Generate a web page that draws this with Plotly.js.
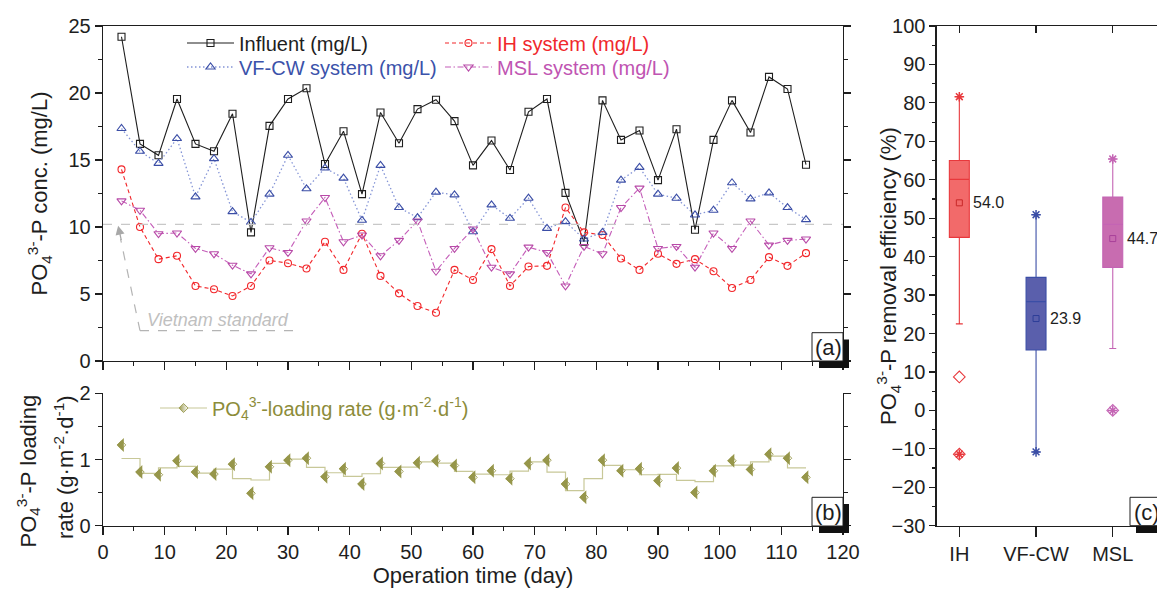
<!DOCTYPE html>
<html><head><meta charset="utf-8">
<script src="https://cdn.plot.ly/plotly-3.0.1.min.js"></script>
<style>html,body{margin:0;padding:0;overflow:hidden;background:#fff}</style>
</head><body><div id="chart" style="width:1175px;height:589px"></div>
<script>
// ---------- data ----------
const days = [3,6,9,12,15,18,21,24,27,30,33,36,39,42,45,48,51,54,57,60,63,66,69,72,75,78,81,84,87,90,93,96,99,102,105,108,111,114];
const influent = [24.2,16.2,15.35,19.55,16.2,15.65,18.45,9.6,17.55,19.55,20.35,14.7,17.15,12.45,18.55,16.25,18.8,19.5,17.9,14.6,16.45,14.25,18.6,19.55,12.55,8.9,19.45,16.5,17.2,13.5,17.3,9.8,16.5,19.45,17.05,21.2,20.3,14.65];
const ihSystem = [14.3,10.0,7.6,7.85,5.6,5.35,4.85,5.6,7.5,7.3,6.9,8.9,6.8,9.5,6.35,5.05,4.1,3.6,6.8,6.05,8.35,5.6,7.05,7.1,11.45,9.6,9.4,7.65,6.8,8.0,7.25,7.6,6.7,5.45,6.05,7.75,7.1,8.05];
const vfcwSystem = [17.35,15.65,14.75,16.6,12.25,15.1,11.15,10.35,12.45,15.35,12.85,14.4,13.65,10.5,14.6,11.45,10.7,12.6,12.4,9.65,11.65,10.65,12.15,9.9,10.4,9.1,9.6,13.5,14.45,12.45,12.15,10.9,11.25,13.3,12.1,12.55,11.45,10.55];
const mslSystem = [11.95,11.25,9.5,9.55,8.4,8.0,7.15,6.5,8.45,8.1,10.45,12.2,8.9,9.4,7.85,9.0,10.45,6.7,8.4,9.85,7.0,6.5,8.5,8.1,5.6,8.55,8.0,11.45,12.9,8.4,8.55,7.0,9.55,8.4,10.45,8.65,9.0,9.1];
const vietnamStandard = 10.2;
const loadingRate = [1.22,0.81,0.77,0.98,0.81,0.78,0.93,0.49,0.89,0.99,1.02,0.74,0.86,0.63,0.94,0.82,0.95,0.98,0.91,0.73,0.83,0.71,0.94,0.99,0.63,0.43,0.99,0.83,0.86,0.68,0.87,0.5,0.83,0.98,0.85,1.08,1.02,0.73];
const loadingStepLevels = [1.015,0.79,0.875,0.895,0.795,0.855,0.71,0.69,0.94,1.005,0.88,0.80,0.745,0.785,0.88,0.885,0.965,0.945,0.82,0.78,0.77,0.825,0.965,0.81,0.53,0.71,0.91,0.845,0.77,0.775,0.685,0.665,0.905,0.915,0.965,1.05,0.875];

const boxCats = ['IH','VF-CW','MSL'];
const boxQ1 = [45.0,15.7,37.2];
const boxMedian = [60.1,28.3,48.4];
const boxQ3 = [65.0,34.6,55.5];
const boxLowerFence = [22.5,-10.8,16.1];
const boxUpperFence = [81.6,50.9,65.4];
const boxMean = [54.0,23.9,44.7];
const boxMin = [-11.4,-10.8,0.0];
const boxMax = [81.6,50.9,65.4];
const outlierCats = ['IH','IH','MSL'];
const outlierVals = [8.7,-11.4,0.0];

// ---------- helpers / styles ----------
const W = 1175, H = 589;
const fx = p => p / W;
const fy = p => 1 - p / H;
const FONT = 'Liberation Sans, Arial, sans-serif';
const INK = '#1e1e1e';
const PO4 = 'PO<sub>4</sub><sup>3-</sup>';
const boxLine = ['#e8383c','#3b4ea6','#c464b4'];
const boxFill = ['#f26a6a','#5a5fac','#c86cb0'];
const olive = '#96964a';
const oliveLight = '#a2a25c';
const oliveLine = '#c8c898';

const traces = [];
traces.push({x: days, y: influent, xaxis:'x', yaxis:'y', mode:'lines+markers', name:'Influent (mg/L)', legend:'legend', showlegend:true,
  line:{color:INK, width:1.1}, marker:{symbol:'square-open', size:7, color:INK, line:{width:1.1}}});
traces.push({x: days, y: ihSystem, xaxis:'x', yaxis:'y', mode:'lines+markers', name:'IH system (mg/L)', legend:'legend2', showlegend:true,
  line:{color:'#f2262a', width:1.1, dash:'4px,3px'}, marker:{symbol:'circle-open', size:7, color:'#f2262a', line:{width:1.1}}});
traces.push({x: days, y: vfcwSystem, xaxis:'x', yaxis:'y', mode:'lines+markers', name:'VF-CW system (mg/L)', legend:'legend3', showlegend:true,
  line:{color:'#8494d6', width:1.3, dash:'1.5px,2.5px'}, marker:{symbol:'triangle-up-open', size:8, color:'#3b4ea6', line:{width:1.1}}});
traces.push({x: days, y: mslSystem, xaxis:'x', yaxis:'y', mode:'lines+markers', name:'MSL system (mg/L)', legend:'legend4', showlegend:true,
  line:{color:'#c45cb8', width:1.1, dash:'6px,2.5px,1.5px,2.5px'}, marker:{symbol:'triangle-down-open', size:8, color:'#b84aa8', line:{width:1.1}}});

// loading rate panel
traces.push({x: days, y: loadingStepLevels.concat([loadingStepLevels[loadingStepLevels.length-1]]), xaxis:'x2', yaxis:'y2',
  mode:'lines', line:{shape:'hv', color:oliveLine, width:1.2}, showlegend:false, hoverinfo:'skip'});
const diamondOutline = {symbol:'square-open', angle:45, size:6, color:oliveLight, line:{width:1}};
const diamondLeftHalf = {symbol:'triangle-ne', angle:225, size:11, color:olive, line:{width:0}};
traces.push({x: days, y: loadingRate, xaxis:'x2', yaxis:'y2', mode:'markers', marker:diamondOutline, showlegend:false});
traces.push({x: days, y: loadingRate, xaxis:'x2', yaxis:'y2', mode:'markers', marker:diamondLeftHalf, showlegend:false});
traces.push({x: [null], y: [null], xaxis:'x2', yaxis:'y2', mode:'lines+markers', name: PO4 + '-loading rate (g·m<sup>-2</sup>·d<sup>-1</sup>)',
  legend:'legend5', showlegend:true, line:{color:oliveLine, width:1.2},
  marker:{symbol:'diamond', size:7, color:olive, gradient:{type:'horizontal', color:'#ffffff'}, line:{color:oliveLight, width:1}}});

// box panel
boxCats.forEach((c, i) => {
  traces.push({type:'box', x:[c], q1:[boxQ1[i]], median:[boxMedian[i]], q3:[boxQ3[i]],
    lowerfence:[boxLowerFence[i]], upperfence:[boxUpperFence[i]], boxpoints:false,
    xaxis:'x3', yaxis:'y3', width:0.26, whiskerwidth:0.35, fillcolor:boxFill[i],
    line:{color:boxLine[i], width:1.1}, showlegend:false, name:c});
});
traces.push({x: boxCats.map((c, i) => i), y: boxMean, xaxis:'x4', yaxis:'y3', mode:'markers', showlegend:false,
  marker:{symbol:'square-open', size:6, color:['#c82828','#2e3e98','#a8409a'], line:{width:1}}});
traces.push({x: outlierCats, y: outlierVals, xaxis:'x3', yaxis:'y3', mode:'markers', showlegend:false,
  marker:{symbol:'diamond-open', size:9, color:['#e8383c','#e8383c','#c464b4'], line:{width:1.1}}});
traces.push({x: boxCats.concat(boxCats), y: boxMin.concat(boxMax), xaxis:'x3', yaxis:'y3', mode:'markers', showlegend:false,
  marker:{symbol:'asterisk-open', size:8, color:boxLine.concat(boxLine), line:{width:1.5}}});

const tickfont = {family:FONT, size:20, color:INK};
const titlefont = {family:FONT, size:22, color:INK};
const axBase = {showline:true, linecolor:INK, linewidth:1.3, ticks:'outside', tickcolor:INK, tickwidth:1.2,
  showgrid:false, zeroline:false, tickfont:tickfont};

function legendAt(xp, yp, color) {
  return {x:fx(xp), y:fy(yp), xanchor:'left', yanchor:'middle', bgcolor:'rgba(0,0,0,0)', borderwidth:0,
    itemwidth:47, font:{family:FONT, size:20, color:color}};
}

const annotations = [
  {xref:'x', yref:'y', x:18.7, y:3.08, xanchor:'center', yanchor:'middle', text:'<i>Vietnam standard</i>', showarrow:false,
   font:{family:FONT, size:18, color:'#c0c0c0'}},
  {xref:'x', yref:'y', x:2.45, y:10.1, ax:3.5, ay:16, text:'', showarrow:true, arrowhead:2, arrowsize:1.4,
   arrowwidth:1.3, arrowcolor:'#a8a8a8', standoff:0},
  {xref:'paper', yref:'paper', x:fx(828), y:fy(347), xanchor:'center', yanchor:'middle', text:'(a)', showarrow:false, font:titlefont},
  {xref:'paper', yref:'paper', x:fx(828), y:fy(512), xanchor:'center', yanchor:'middle', text:'(b)', showarrow:false, font:titlefont},
  {xref:'paper', yref:'paper', x:fx(1132), y:fy(512), xanchor:'left', yanchor:'middle', text:'(c)', showarrow:false, font:titlefont},
  {xref:'paper', yref:'paper', x:fx(28), y:fy(393), xanchor:'center', yanchor:'top', textangle:-90,
   text: PO4 + '-P loading', showarrow:false, font:titlefont},
  {xref:'paper', yref:'paper', x:fx(64), y:fy(393), xanchor:'center', yanchor:'top', textangle:-90,
   text:'rate (g·m<sup>-2</sup>·d<sup>-1</sup>)', showarrow:false, font:titlefont},
  {xref:'paper', yref:'paper', x:fx(888), y:fy(276), xanchor:'center', yanchor:'middle', textangle:-90,
   text: PO4 + '-P removal efficiency (%)', showarrow:false, font:titlefont}
];
boxCats.forEach((c, i) => {
  annotations.push({xref:'x3', yref:'y3', x:c, y:boxMean[i], xshift:12, xanchor:'left', yanchor:'middle', text:boxMean[i].toFixed(1),
    showarrow:false, font:{family:FONT, size:16, color:INK}});
});

const shapes = [
  {type:'line', xref:'x', yref:'y', x0:0, x1:120, y0:vietnamStandard, y1:vietnamStandard, line:{color:'#c8c8c8', width:1.2, dash:'dash'}},
  {type:'line', xref:'x', yref:'y', x0:6.0, x1:31.1, y0:2.26, y1:2.26, line:{color:'#b4b4b4', width:1.2, dash:'dash'}},
  {type:'line', xref:'x', yref:'y', x0:6.0, x1:2.85, y0:2.26, y1:9.1, line:{color:'#b4b4b4', width:1.2, dash:'dash'}},
  // panel label boxes
  {type:'rect', xref:'paper', yref:'paper', x0:fx(819), x1:fx(849), y0:fy(368), y1:fy(339.5), fillcolor:'#111', line:{width:0}},
  {type:'rect', xref:'paper', yref:'paper', x0:fx(812), x1:fx(843), y0:fy(361), y1:fy(332.7), fillcolor:'#fff', line:{color:INK, width:1}},
  {type:'rect', xref:'paper', yref:'paper', x0:fx(819), x1:fx(849), y0:fy(533), y1:fy(504), fillcolor:'#111', line:{width:0}},
  {type:'rect', xref:'paper', yref:'paper', x0:fx(812), x1:fx(843), y0:fy(526), y1:fy(497.3), fillcolor:'#fff', line:{color:INK, width:1}},
  {type:'rect', xref:'paper', yref:'paper', x0:fx(1136), x1:fx(1174), y0:fy(533), y1:fy(504), fillcolor:'#111', line:{width:0}},
  {type:'rect', xref:'paper', yref:'paper', x0:fx(1130), x1:fx(1168), y0:fy(525.7), y1:fy(497.3), fillcolor:'#fff', line:{color:INK, width:1}}
];

const layout = {
  width:W, height:H, margin:{l:0, r:0, t:0, b:0}, paper_bgcolor:'#fff', plot_bgcolor:'rgba(0,0,0,0)',
  font:{family:FONT, color:INK}, hovermode:false, showlegend:true,
  xaxis: Object.assign({}, axBase, {domain:[fx(103), fx(843)], anchor:'y', range:[0,120], tick0:0, dtick:10, ticklen:8,
    showticklabels:false, mirror:true, minor:{dtick:5, ticks:'outside', ticklen:4, tickcolor:INK, tickwidth:1.2}}),
  yaxis: Object.assign({}, axBase, {domain:[fy(361), fy(26)], anchor:'x', range:[0,25], tick0:0, dtick:5, ticklen:7,
    mirror:'ticks', minor:{dtick:2.5, ticks:'outside', ticklen:4, tickcolor:INK, tickwidth:1.2},
    title:{text: PO4 + '-P conc. (mg/L)', font:titlefont, standoff:14}}),
  xaxis2: Object.assign({}, axBase, {domain:[fx(103), fx(843)], anchor:'y2', range:[0,120], tick0:0, dtick:10, ticklen:8,
    minor:{dtick:5, ticks:'outside', ticklen:4, tickcolor:INK, tickwidth:1.2},
    title:{text:'Operation time (day)', font:titlefont, standoff:4}}),
  yaxis2: Object.assign({}, axBase, {domain:[fy(525.7), fy(393.3)], anchor:'x2', range:[0,2], tick0:0, dtick:1, ticklen:7,
    mirror:'ticks', minor:{dtick:0.5, ticks:'outside', ticklen:4, tickcolor:INK, tickwidth:1.2}}),
  xaxis3: Object.assign({}, axBase, {domain:[fx(936.7), fx(1168)], anchor:'y3', type:'category', categoryorder:'array',
    categoryarray:boxCats, range:[-0.295, 2.72], ticklen:10, mirror:true}),
  xaxis4: {overlaying:'x3', anchor:'y3', side:'top', type:'linear', range:[-0.295, 2.72], tickvals:[0,1,2],
    ticks:'inside', ticklen:7, tickcolor:INK, tickwidth:1.2, showticklabels:false, showline:false, showgrid:false, zeroline:false},
  yaxis3: Object.assign({}, axBase, {domain:[fy(525.7), fy(26)], anchor:'x3', range:[-30,100], tick0:0, dtick:10, ticklen:6,
    mirror:'ticks', minor:{dtick:5, ticks:'outside', ticklen:3, tickcolor:INK, tickwidth:1.2}}),
  legend: legendAt(182, 43, INK),
  legend2: legendAt(440, 43, '#f0282c'),
  legend3: legendAt(182, 67, '#3b52aa'),
  legend4: legendAt(440, 67, '#c054b2'),
  legend5: legendAt(155, 408, '#8c8c3a'),
  shapes: shapes,
  annotations: annotations
};

Plotly.newPlot('chart', traces, layout, {displayModeBar:false, staticPlot:true});
</script>
</body></html>
